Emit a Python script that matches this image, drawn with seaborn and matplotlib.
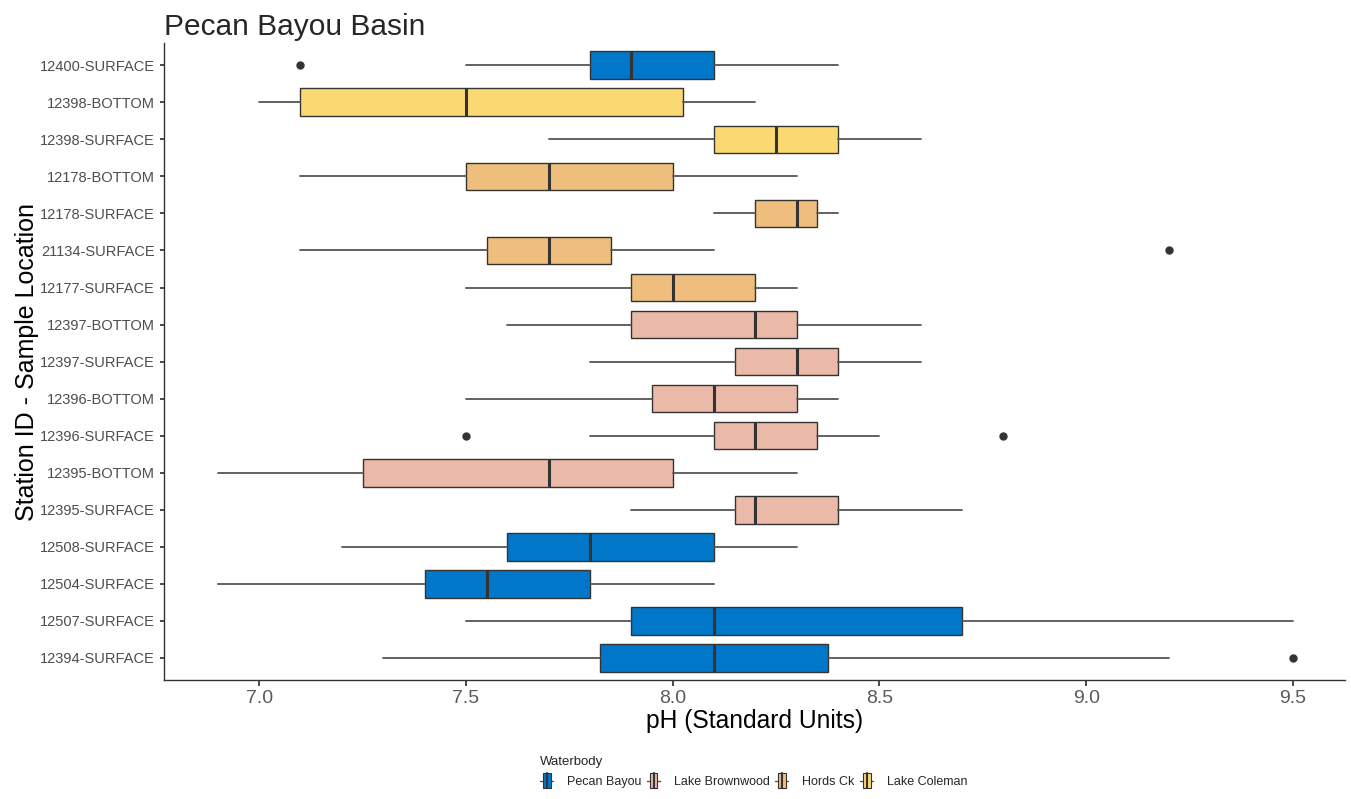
import matplotlib
matplotlib.use("Agg")
import matplotlib.pyplot as plt
from matplotlib.patches import Patch, Rectangle
from matplotlib.lines import Line2D
from matplotlib.legend_handler import HandlerBase
import seaborn as sns

# Data (box summaries, top row first)
stations = ["12400-SURFACE", "12398-BOTTOM", "12398-SURFACE", "12178-BOTTOM",
            "12178-SURFACE", "21134-SURFACE", "12177-SURFACE", "12397-BOTTOM",
            "12397-SURFACE", "12396-BOTTOM", "12396-SURFACE", "12395-BOTTOM",
            "12395-SURFACE", "12508-SURFACE", "12504-SURFACE", "12507-SURFACE",
            "12394-SURFACE"]
waterbody = ["Pecan Bayou", "Lake Coleman", "Lake Coleman", "Hords Ck",
             "Hords Ck", "Hords Ck", "Hords Ck", "Lake Brownwood",
             "Lake Brownwood", "Lake Brownwood", "Lake Brownwood", "Lake Brownwood",
             "Lake Brownwood", "Pecan Bayou", "Pecan Bayou", "Pecan Bayou",
             "Pecan Bayou"]
whisker_low = [7.5, 7.0, 7.7, 7.1, 8.1, 7.1, 7.5, 7.6, 7.8, 7.5, 7.8, 6.9, 7.9, 7.2, 6.9, 7.5, 7.3]
q1 = [7.8, 7.1, 8.1, 7.5, 8.2, 7.55, 7.9, 7.9, 8.15, 7.95, 8.1, 7.25, 8.15, 7.6, 7.4, 7.9, 7.825]
median = [7.9, 7.5, 8.25, 7.7, 8.3, 7.7, 8.0, 8.2, 8.3, 8.1, 8.2, 7.7, 8.2, 7.8, 7.55, 8.1, 8.1]
q3 = [8.1, 8.025, 8.4, 8.0, 8.35, 7.85, 8.2, 8.3, 8.4, 8.3, 8.35, 8.0, 8.4, 8.1, 7.8, 8.7, 8.375]
whisker_high = [8.4, 8.2, 8.6, 8.3, 8.4, 8.1, 8.3, 8.6, 8.6, 8.4, 8.5, 8.3, 8.7, 8.3, 8.1, 9.5, 9.2]
outliers = [[7.1], [], [], [], [], [9.2], [], [], [], [], [7.5, 8.8], [], [], [], [], [], [9.5]]

legend_order = ["Pecan Bayou", "Lake Brownwood", "Hords Ck", "Lake Coleman"]
palette = {"Pecan Bayou": "#0077C8", "Lake Brownwood": "#EBB9A8",
           "Hords Ck": "#EFBE7D", "Lake Coleman": "#FBD972"}


# ggplot-like boxplot legend key: whisker stubs, box, median line
class BoxKey(HandlerBase):
    def create_artists(self, legend, orig_handle, xdescent, ydescent,
                       width, height, fontsize, trans):
        x0, y0 = -xdescent, -ydescent
        whisk = Line2D([x0, x0 + width], [y0 + height / 2] * 2,
                       color="#555555", lw=1.0, transform=trans)
        rect = Rectangle((x0 + 0.2 * width, y0 - 1), 0.6 * width, height + 2,
                         facecolor=orig_handle.get_facecolor(),
                         edgecolor="#333333", lw=0.8, transform=trans)
        med = Line2D([x0 + width / 2] * 2, [y0 - 1, y0 + height + 1],
                     color="#333333", lw=1.5, transform=trans)
        return [whisk, rect, med]


sns.set_theme(style="ticks")
plt.rcParams["font.family"] = ["Liberation Sans", "DejaVu Sans"]

fig = plt.figure(figsize=(13.51, 7.99), dpi=100)
ax = fig.add_axes([0.1214, 0.149, 0.8742, 0.797])

stats = []
for i, name in enumerate(stations):
    stats.append({"label": name, "whislo": whisker_low[i], "q1": q1[i],
                  "med": median[i], "q3": q3[i], "whishi": whisker_high[i],
                  "fliers": outliers[i]})

positions = list(range(len(stations)))
bp = ax.bxp(stats, positions=positions, widths=0.75, orientation="horizontal",
            patch_artist=True, showcaps=False,
            boxprops=dict(edgecolor="#333333", linewidth=1.0),
            whiskerprops=dict(color="#555555", linewidth=1.3),
            medianprops=dict(color="#333333", linewidth=2.2),
            flierprops=dict(marker="o", markersize=5, markerfacecolor="#333333",
                            markeredgecolor="#333333"))
for patch, wb in zip(bp["boxes"], waterbody):
    patch.set_facecolor(palette[wb])

ax.set_ylim(len(stations) - 0.4, -0.6)
ax.set_xlim(6.77, 9.626)
ax.set_xticks([7.0, 7.5, 8.0, 8.5, 9.0, 9.5])
ax.set_xticklabels(["7.0", "7.5", "8.0", "8.5", "9.0", "9.5"])
ax.set_yticks(positions)
ax.set_yticklabels(stations)
ax.tick_params(axis="y", labelsize=10.5, labelcolor="#4D4D4D", length=3, color="#333333")
ax.tick_params(axis="x", labelsize=14, labelcolor="#5A5A5A", length=4, color="#333333")
for side in ["left", "bottom"]:
    ax.spines[side].set_color("#333333")
    ax.spines[side].set_linewidth(1.0)
sns.despine(ax=ax)

ax.set_xlabel("pH (Standard Units)", fontsize=17.7, color="black", labelpad=1)
ax.set_ylabel("Station ID - Sample Location", fontsize=18, color="black", labelpad=1)
ax.set_title("Pecan Bayou Basin", loc="left", fontsize=21.5, pad=6)

handles = [Patch(facecolor=palette[w], edgecolor="#333333", label=w) for w in legend_order]
fig.legend(handles=handles, title="Waterbody", loc="lower center",
           bbox_to_anchor=(0.558, 0.0), ncol=4, frameon=False, fontsize=9,
           title_fontsize=9.5, handlelength=1.05, handleheight=1.2,
           columnspacing=0.45, handletextpad=1.1, alignment="left",
           handler_map={Patch: BoxKey()})

fig.savefig("out.png", dpi=100)
